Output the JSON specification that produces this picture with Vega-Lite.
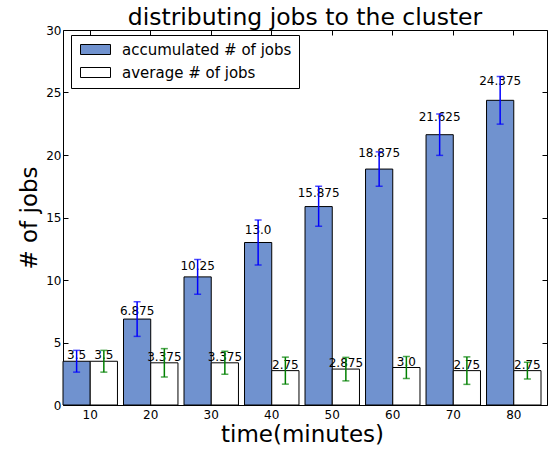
{
  "$schema": "https://vega.github.io/schema/vega-lite/v6.json",
  "width": 484,
  "height": 375,
  "autosize": {"type": "none"},
  "padding": {"left": 63, "top": 30, "right": 5, "bottom": 46},
  "config": {
    "font": "DejaVu Sans",
    "view": {"stroke": "black", "strokeWidth": 1},
    "axis": {"grid": false, "domain": false, "tickColor": "black", "tickSize": -5, "tickWidth": 1, "labelColor": "black", "labelFontSize": 12, "titleFontSize": 23, "titleFontWeight": "normal", "titleColor": "black"}
  },
  "title": {"text": "distributing jobs to the cluster", "fontSize": 23.5, "fontWeight": "normal", "font": "DejaVu Sans", "color": "black", "anchor": "middle", "offset": -5},
  "data": {"values": [
    {"time": "10", "series": "accumulated # of jobs", "value": 3.5, "label": "3.5", "lo": 2.63, "hi": 4.37},
    {"time": "20", "series": "accumulated # of jobs", "value": 6.875, "label": "6.875", "lo": 5.49, "hi": 8.26},
    {"time": "30", "series": "accumulated # of jobs", "value": 10.25, "label": "10.25", "lo": 8.86, "hi": 11.64},
    {"time": "40", "series": "accumulated # of jobs", "value": 13.0, "label": "13.0", "lo": 11.2, "hi": 14.8},
    {"time": "50", "series": "accumulated # of jobs", "value": 15.875, "label": "15.875", "lo": 14.3, "hi": 17.5},
    {"time": "60", "series": "accumulated # of jobs", "value": 18.875, "label": "18.875", "lo": 17.5, "hi": 20.25},
    {"time": "70", "series": "accumulated # of jobs", "value": 21.625, "label": "21.625", "lo": 19.97, "hi": 23.28},
    {"time": "80", "series": "accumulated # of jobs", "value": 24.375, "label": "24.375", "lo": 22.47, "hi": 26.28},
    {"time": "10", "series": "average # of jobs", "value": 3.5, "label": "3.5", "lo": 2.63, "hi": 4.37},
    {"time": "20", "series": "average # of jobs", "value": 3.375, "label": "3.375", "lo": 2.24, "hi": 4.51},
    {"time": "30", "series": "average # of jobs", "value": 3.375, "label": "3.375", "lo": 2.46, "hi": 4.3},
    {"time": "40", "series": "average # of jobs", "value": 2.75, "label": "2.75", "lo": 1.67, "hi": 3.83},
    {"time": "50", "series": "average # of jobs", "value": 2.875, "label": "2.875", "lo": 1.93, "hi": 3.81},
    {"time": "60", "series": "average # of jobs", "value": 3.0, "label": "3.0", "lo": 2.12, "hi": 3.88},
    {"time": "70", "series": "average # of jobs", "value": 2.75, "label": "2.75", "lo": 1.65, "hi": 3.85},
    {"time": "80", "series": "average # of jobs", "value": 2.75, "label": "2.75", "lo": 2.08, "hi": 3.42}
  ]},
  "encoding": {
    "x": {"field": "time", "type": "ordinal", "sort": null, "scale": {"type": "band", "range": [0, 478], "paddingInner": 0.1, "paddingOuter": 0}},
    "xOffset": {"field": "series", "type": "nominal", "scale": {"domain": ["accumulated # of jobs", "average # of jobs"], "paddingInner": 0, "paddingOuter": 0}}
  },
  "layer": [
    {
      "mark": {"type": "bar", "stroke": "black", "strokeWidth": 1},
      "encoding": {
        "x": {"field": "time", "type": "ordinal", "sort": null, "axis": {"orient": "bottom", "title": "time(minutes)", "labelAngle": 0, "labelPadding": 9, "titleY": 18}},
        "y": {"field": "value", "type": "quantitative", "scale": {"domain": [0, 30], "nice": false, "zero": true}, "axis": {"orient": "left", "values": [0, 5, 10, 15, 20, 25, 30], "title": "# of jobs", "labelPadding": 7, "titleX": -22}},
        "fill": {"field": "series", "type": "nominal", "scale": {"domain": ["accumulated # of jobs", "average # of jobs"], "range": ["#7092cf", "#ffffff"]},
          "legend": {"title": null, "orient": "none", "legendX": 8, "legendY": 5, "strokeColor": "black", "fillColor": "white", "padding": 7, "cornerRadius": 0, "symbolType": "M-1,-1H5V1H-1Z", "symbolSize": 100, "symbolStrokeColor": "black", "symbolStrokeWidth": 1, "symbolOpacity": 1, "labelFontSize": 15, "labelColor": "black", "labelOffset": 29, "labelLimit": 400, "rowPadding": 7}}
      }
    },
    {
      "mark": {"type": "text", "fontSize": 12, "color": "black", "baseline": "alphabetic", "dy": {"expr": "-0.625*datum.value"}},
      "encoding": {
        "x": {"field": "time", "type": "ordinal", "sort": null, "axis": {"orient": "top", "labels": false, "title": null}},
        "y": {"field": "value", "type": "quantitative", "axis": {"orient": "right", "labels": false, "title": null, "values": [0, 5, 10, 15, 20, 25, 30]}},
        "text": {"field": "label"}
      }
    },
    {
      "mark": {"type": "rule", "strokeWidth": 1.5, "stroke": {"expr": "datum.series === 'accumulated # of jobs' ? '#0000ff' : '#008000'"}},
      "encoding": {
        "x": {"field": "time", "type": "ordinal", "sort": null, "axis": null},
        "y": {"field": "lo", "type": "quantitative", "axis": null},
        "y2": {"field": "hi"}
      }
    },
    {
      "mark": {"type": "tick", "size": 7, "thickness": 1.5, "color": {"expr": "datum.series === 'accumulated # of jobs' ? '#0000ff' : '#008000'"}},
      "encoding": {
        "x": {"field": "time", "type": "ordinal", "sort": null, "axis": null},
        "y": {"field": "lo", "type": "quantitative", "axis": null}
      }
    },
    {
      "mark": {"type": "tick", "size": 7, "thickness": 1.5, "color": {"expr": "datum.series === 'accumulated # of jobs' ? '#0000ff' : '#008000'"}},
      "encoding": {
        "x": {"field": "time", "type": "ordinal", "sort": null, "axis": null},
        "y": {"field": "hi", "type": "quantitative", "axis": null}
      }
    }
  ],
  "resolve": {"axis": {"x": "independent", "y": "independent"}}
}
